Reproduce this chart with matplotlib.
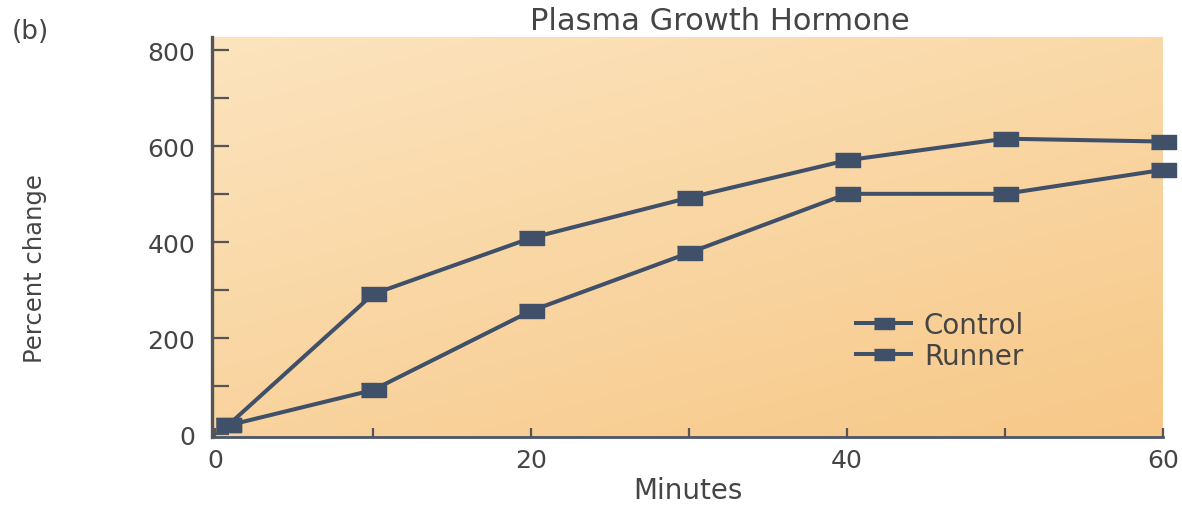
import numpy as np
import matplotlib
matplotlib.use("Agg")
import matplotlib.pyplot as plt
from matplotlib.ticker import MultipleLocator

# ---- data ----
minutes = [0.8, 10, 20, 30, 40, 50, 60]
control = [18, 292, 409, 493, 571, 616, 610]
runner = [18, 92, 257, 378, 501, 501, 551]
series_names = ["Control", "Runner"]
x_ticks = [0, 20, 40, 60]
y_ticks = [0, 200, 400, 600, 800]

title = "Plasma Growth Hormone"
panel = "(b)"
xlabel = "Minutes"
ylabel = "Percent change"

# ---- style ----
line_col = "#3f5068"
text_col = "#454545"
spine_col = "#555555"
bg_light = np.array([252, 228, 190]) / 255.0
bg_dark = np.array([247, 200, 136]) / 255.0

fig = plt.figure(figsize=(11.82, 5.06), dpi=100)
ax = fig.add_axes([212 / 1182, 1 - 438 / 506, (1163 - 212) / 1182, 400 / 506])

# gradient background
n = 200
ii, jj = np.mgrid[0:n, 0:n] / (n - 1)
t = (ii * 0.6 + jj * 0.4)
grad = bg_light[None, None, :] * (1 - t[..., None]) + bg_dark[None, None, :] * t[..., None]
ax.imshow(grad, extent=[0, 1, 0, 1], transform=ax.transAxes, aspect="auto", zorder=0)

rect_marker = [(-1, -0.55), (1, -0.55), (1, 0.55), (-1, 0.55)]
for vals, name in zip([control, runner], series_names):
    ax.plot(minutes, vals, color=line_col, lw=2.9, marker=rect_marker, markersize=18,
            markerfacecolor=line_col, markeredgecolor=line_col, label=name,
            clip_on=False, zorder=3)

ax.set_xlim(-0.2, 60)
ax.set_ylim(-6, 828)

for s in ["top", "right"]:
    ax.spines[s].set_visible(False)
ax.spines["left"].set_color(spine_col)
ax.spines["left"].set_linewidth(2.4)
ax.spines["bottom"].set_color("#4a5568")
ax.spines["bottom"].set_linewidth(2.0)

ax.set_xticks(x_ticks)
ax.set_xticklabels([str(v) for v in x_ticks])
ax.xaxis.set_minor_locator(MultipleLocator(10))
ax.set_yticks(y_ticks)
ax.set_yticklabels([str(v) for v in y_ticks])
ax.yaxis.set_minor_locator(MultipleLocator(100))

ax.tick_params(axis="y", which="both", direction="in", length=12, width=1.6,
               color=spine_col, pad=12, labelsize=18, labelcolor=text_col)
ax.tick_params(axis="x", which="both", direction="in", length=6.5, width=1.6,
               color=spine_col, pad=8, labelsize=18, labelcolor=text_col)

for lab in ax.get_xticklabels() + ax.get_yticklabels():
    lab.set_family("DejaVu Sans")

fig.text(720 / 1182, 1 - 21 / 506, title, ha="center", va="center",
         fontsize=22, color=text_col, family="DejaVu Sans")
fig.text(12 / 1182, 1 - 32 / 506, panel, ha="left", va="center",
         fontsize=19, color=text_col, family="DejaVu Sans")
fig.text(688 / 1182, 1 - 491 / 506, xlabel, ha="center", va="center",
         fontsize=20, color=text_col, family="DejaVu Sans")
fig.text(35 / 1182, 1 - 269 / 506, ylabel, ha="center", va="center", rotation=90,
         fontsize=17.5, color=text_col, family="DejaVu Sans")

leg = ax.legend(loc="upper left", bbox_to_anchor=(0.677, 0.316), frameon=False,
                handlelength=2.0, handletextpad=0.45, labelspacing=0.12,
                borderaxespad=0, borderpad=0,
                prop={"family": "DejaVu Sans", "size": 20}, markerscale=0.8)
for txt in leg.get_texts():
    txt.set_color(text_col)

fig.savefig("out.png", dpi=100)
